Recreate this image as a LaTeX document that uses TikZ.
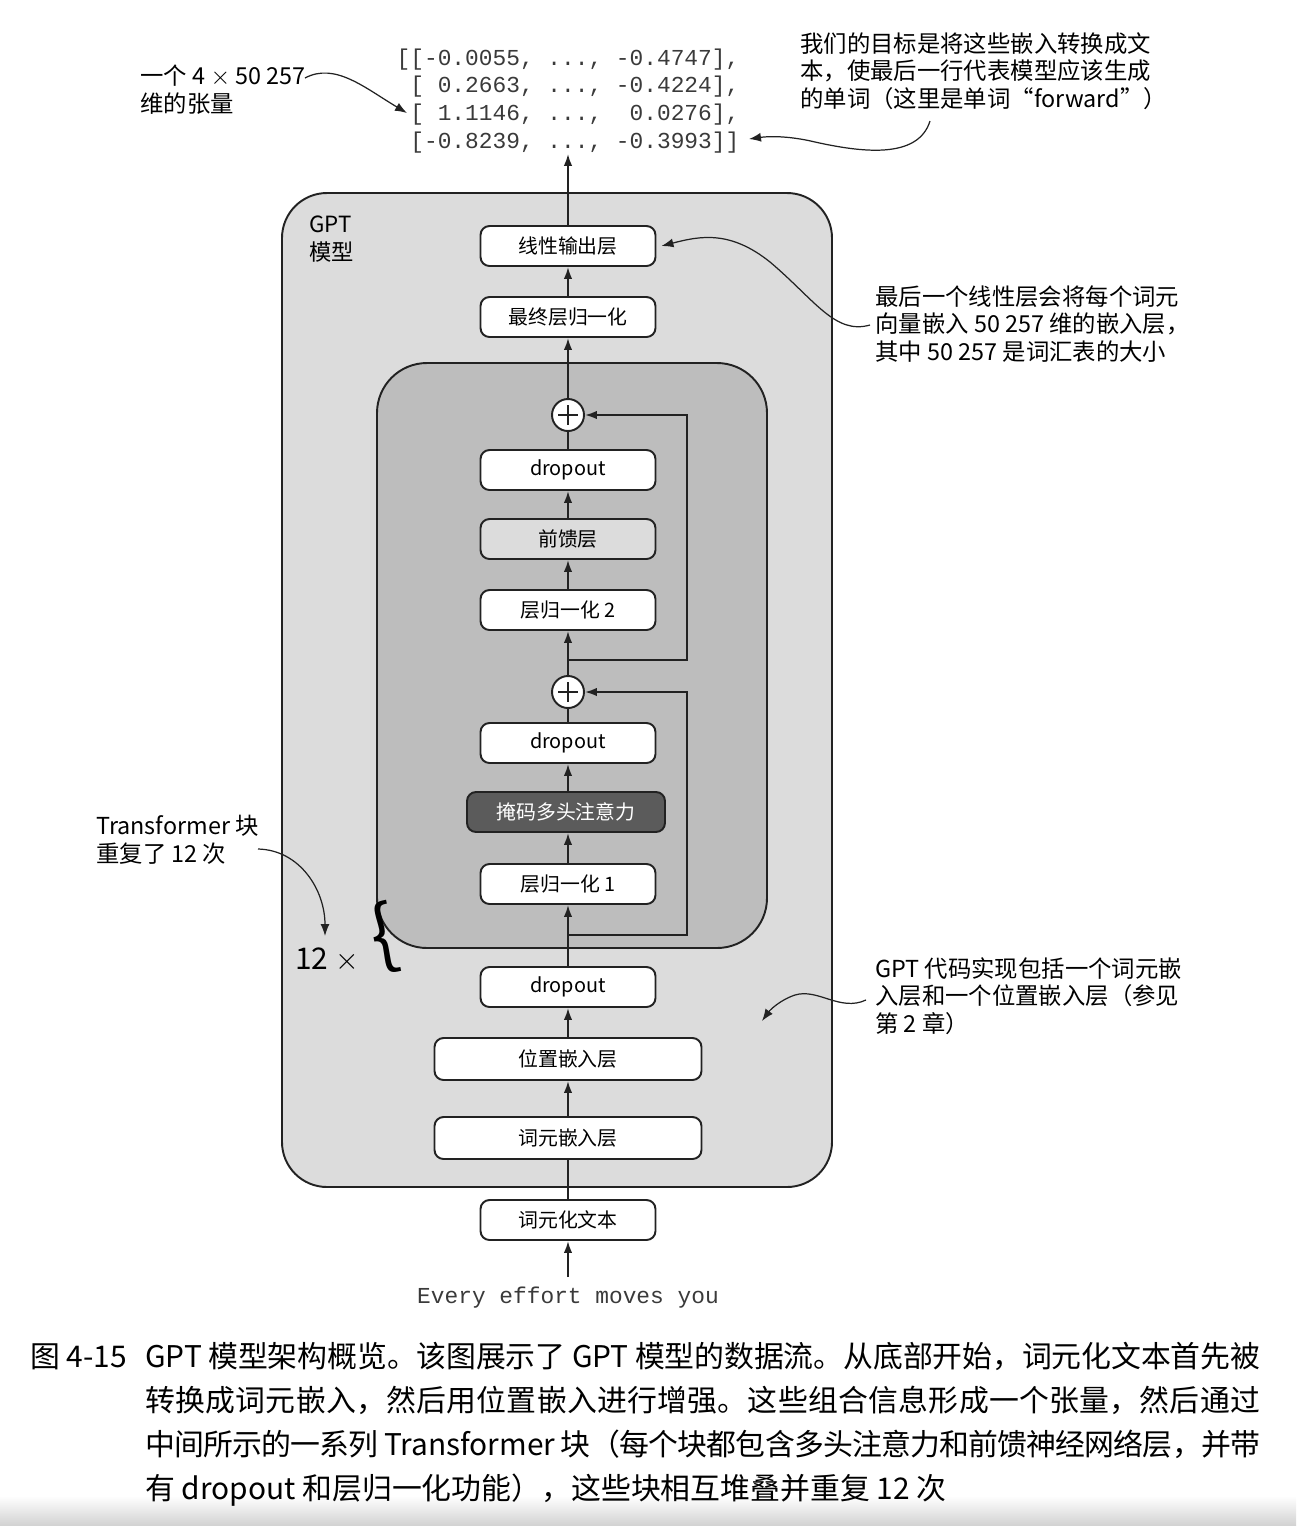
\documentclass[tikz,border=0pt]{standalone}
\usepackage{fontspec}
\setmainfont{Noto Sans CJK SC}
\setmonofont{Liberation Mono}
\usepackage{tikz}
\usetikzlibrary{arrows.meta,positioning}
\XeTeXlinebreaklocale "zh"
\XeTeXlinebreakskip=0pt plus 2pt minus 1.2pt
\definecolor{framegray}{HTML}{DCDCDC}
\definecolor{blockgray}{HTML}{BDBDBD}
\definecolor{attgray}{HTML}{5B5B5B}
\definecolor{inkgray}{HTML}{222222}
\definecolor{codegray}{HTML}{3A3A3A}
\newcommand{\boxfont}{\fontsize{11.3}{13}\selectfont}
\newcommand{\notefont}{\fontsize{13.3}{15.8}\selectfont}
\newcommand{\codefont}{\ttfamily\fontsize{13}{15.9}\selectfont}
\newcommand{\capfont}{\fontsize{17}{25}\selectfont}

\tikzset{
  layer/.style={draw=inkgray,line width=1.1pt,rounded corners=0.18cm,fill=white,
    minimum width=3.5cm,minimum height=0.8cm,font=\boxfont,inner sep=0pt},
  widelayer/.style={layer,minimum width=5.34cm,minimum height=0.84cm},
  addnode/.style={circle,draw=inkgray,line width=1.1pt,fill=white,minimum size=0.64cm,inner sep=0pt,
    path picture={\draw[line width=1.3pt] (path picture bounding box.center) ++(-10,0) -- ++(20,0)
      (path picture bounding box.center) ++(0,-10) -- ++(0,20);}},
  flow/.style={-{Latex[length=2.4mm,width=1.7mm]},line width=1.1pt,draw=inkgray},
  callout/.style={-{Latex[length=2.4mm,width=1.8mm]},line width=0.7pt,draw=inkgray},
  notetext/.style={align=left,anchor=west,font=\notefont,inner sep=0pt},
  capstyle/.style={anchor=west,font=\capfont,inner sep=0pt},
}

\begin{document}
\begin{tikzpicture}[x=0.02cm,y=-0.02cm]
  \useasboundingbox (0,0) rectangle (1296,1526);
  \shade[top color=white,bottom color=black!18] (0,1496) rectangle (1296,1526);

  % GPT model frame
  \draw[line width=1.1pt,draw=inkgray,fill=framegray,rounded corners=0.9cm] (282,193) rectangle (832,1187);
  \node[anchor=west,align=left,font=\fontsize{12.7}{15.9}\selectfont,inner sep=0pt] (gptlabel) at (309,239) {GPT\\模型};
  % transformer block
  \draw[line width=1.1pt,draw=inkgray,fill=blockgray,rounded corners=1cm] (377,363) rectangle (767,948);

  \node[layer] (lin) at (568,246) {线性输出层};
  \node[layer] (fnorm) at (568,317) {最终层归一化};
  \node[addnode] (plusB) at (568,415) {};
  \node[layer] (dropB) at (568,470) {dropout};
  \node[layer,fill=framegray] (ff) at (568,539) {前馈层};
  \node[layer] (lnB) at (568,610) {层归一化 2};
  \node[addnode] (plusA) at (568,692) {};
  \node[layer] (dropA) at (568,743) {dropout};
  \node[layer,fill=attgray,text=white,minimum width=3.96cm] (mha) at (566,812) {掩码多头注意力};
  \node[layer] (lnA) at (568,884) {层归一化 1};
  \node[layer] (drop) at (568,987) {dropout};
  \node[widelayer] (posemb) at (568,1059) {位置嵌入层};
  \node[widelayer] (tokemb) at (568,1138) {词元嵌入层};
  \node[layer] (toktext) at (568,1220) {词元化文本};
  \node[font=\codefont,text=codegray,inner sep=0pt] (input) at (568,1298) {Every effort moves you};

  \node[font=\codefont,text=codegray,align=left,inner sep=0pt] (tensor) at (568,101)
    {[[-0.0055,\ ...,\ -0.4747],\\
     \ [\ 0.2663,\ ...,\ -0.4224],\\
     \ [\ 1.1146,\ ...,\ \ 0.0276],\\
     \ [-0.8239,\ ...,\ -0.3993]]};

  % main flow
  \draw[flow] (input.north) ++(0,-10) -- (toktext);
  \draw[line width=1.1pt,draw=inkgray] (toktext) -- (tokemb);
  \draw[flow] (tokemb) -- (posemb);
  \draw[flow] (posemb) -- (drop);
  \draw[flow] (drop) -- (lnA);
  \draw[flow] (lnA) -- (mha.south -| lnA.north);
  \draw[flow] (mha.north -| lnA.north) -- (dropA);
  \draw[line width=1.1pt,draw=inkgray] (dropA) -- (plusA);
  \draw[flow] (plusA) -- (lnB);
  \draw[flow] (lnB) -- (ff);
  \draw[flow] (ff) -- (dropB);
  \draw[line width=1.1pt,draw=inkgray] (dropB) -- (plusB);
  \draw[flow] (plusB) -- (fnorm);
  \draw[flow] (fnorm) -- (lin);
  \draw[flow] (lin) -- (tensor);

  % shortcut connections
  \coordinate (skipA) at (568,935);
  \coordinate (skipB) at (568,660);
  \draw[flow] (skipA) -- (687,935) |- (plusA);
  \draw[flow] (skipB) -- (687,660) |- (plusB);

  % repeat marker
  \node[font=\fontsize{17}{17}\selectfont,inner sep=0pt] (times) at (327,960) {12 $\times$};
  \node[rotate=12,inner sep=0pt,font=\fontsize{43}{43}\selectfont] (brace) at (384,938) {\{};

  % notes
  \node[notetext] (shapenote) at (140,90) {一个 4 $\times$ 50 257\\维的张量};
  \node[notetext] (goalnote) at (800,71) {我们的目标是将这些嵌入转换成文\\本，使最后一行代表模型应该生成\\的单词（这里是单词“forward”）};
  \node[notetext] (linnote) at (875,324) {最后一个线性层会将每个词元\\向量嵌入 50 257 维的嵌入层，\\其中 50 257 是词汇表的大小};
  \node[notetext] (blocknote) at (96,840) {Transformer 块\\重复了 12 次};
  \node[notetext] (embnote) at (875,996) {GPT 代码实现包括一个词元嵌\\入层和一个位置嵌入层（参见\\第 2 章）};

  \coordinate (shapefrom) at (305,78);
  \coordinate (shapetip) at (407,113);
  \coordinate (goalfrom) at (930,121);
  \coordinate (goaltip) at (749,139);
  \coordinate (linfrom) at (870,325);
  \coordinate (blockfrom) at (258,849);
  \coordinate (blocktip) at (325,936);
  \coordinate (embfrom) at (866,1000);
  \coordinate (embtip) at (762,1021);

  \draw[callout] (shapefrom) .. controls (335,62) and (365,88) .. (shapetip);
  \draw[callout] (goalfrom) .. controls (918,160) and (860,152) .. (815,142)
    .. controls (790,136) and (770,136) .. (goaltip);
  \draw[callout] (linfrom) .. controls (835,335) and (815,300) .. (770,262)
    .. controls (730,230) and (700,236) .. ([xshift=0.1cm]lin.east);
  \draw[callout] (blockfrom) .. controls (300,850) and (325,890) .. (blocktip);
  \draw[callout] (embfrom) .. controls (840,1012) and (818,988) .. (795,995)
    .. controls (780,1000) and (770,1010) .. (embtip);

  % caption
  \node[capstyle] (capnum) at (30,1357) {图 4-15};
  \node[capstyle,anchor=north west,text width=22.3cm,align=justify] (captext) at (145,1342)
    {GPT 模型架构概览。该图展示了 GPT 模型的数据流。从底部开始，词元化文本首先被\linebreak
     转换成词元嵌入，然后用位置嵌入进行增强。这些组合信息形成一个张量，然后通过\linebreak
     中间所示的一系列 Transformer 块（每个块都包含多头注意力和前馈神经网络层，并带\linebreak
     有 dropout 和层归一化功能），这些块相互堆叠并重复 12 次};
\end{tikzpicture}
\end{document}
